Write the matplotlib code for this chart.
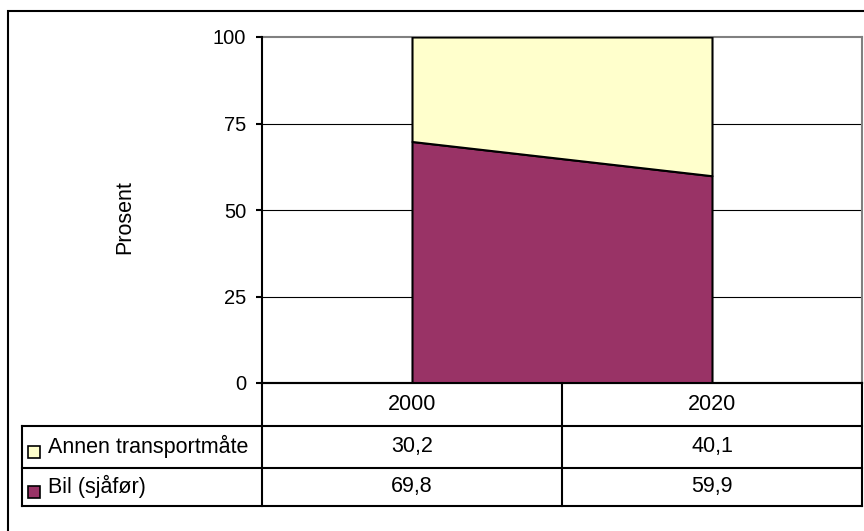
import matplotlib
matplotlib.use("Agg")
import matplotlib.pyplot as plt
from matplotlib.patches import Rectangle

# --- data -------------------------------------------------------------
years = ["2000", "2020"]
series_names = ["Annen transportmåte", "Bil (sjåfør)"]
bil = [69.8, 59.9]
annen = [30.2, 40.1]
y_ticks = [0, 25, 50, 75, 100]
y_label = "Prosent"

col_annen = "#FFFFCC"
col_bil = "#993366"

plt.rcParams["font.family"] = ["Liberation Sans", "DejaVu Sans"]
FS = 15.5
FS_TICK = 14.5

W, H = 864, 531
fig = plt.figure(figsize=(W / 100, H / 100), dpi=100)


def fig_rect(x0, y0, x1, y1):
    """pixel box (top-left origin) -> figure fraction [l, b, w, h]"""
    return [x0 / W, 1 - y1 / H, (x1 - x0) / W, (y1 - y0) / H]


# outer chart frame
fig.patches.append(Rectangle((8 / W, -0.05), 1.2, 1 - 11 / H + 0.05,
                             transform=fig.transFigure, fill=False,
                             edgecolor="black", linewidth=1.5))

# --- plot area ----------------------------------------------------------
PL, PR, PT, PB = 262, 862, 37, 383
ax = fig.add_axes(fig_rect(PL, PT, PR, PB))
x = list(range(len(years)))
ax.stackplot(x, bil, annen, colors=[col_bil, col_annen],
             edgecolor="black", linewidth=1.5, zorder=3)
ax.set_xlim(-0.5, len(years) - 0.5)
ax.set_ylim(0, 100)

for t in y_ticks[1:-1]:
    ax.axhline(t, color="black", linewidth=0.8, zorder=1)

ax.set_yticks(y_ticks)
ax.set_yticklabels([str(t) for t in y_ticks], fontsize=FS_TICK)
ax.tick_params(axis="y", direction="out", length=4.5, width=1.5, pad=7)
ax.set_xticks([])
for side in ("top", "right"):
    ax.spines[side].set_color("#808080")
    ax.spines[side].set_linewidth(1.5)
ax.spines["left"].set_linewidth(1.5)
ax.spines["bottom"].set_linewidth(1.5)
ax.spines["left"].set_zorder(5)

fig.text(125 / W, 1 - 217 / H, y_label, rotation=90, fontsize=FS,
         ha="center", va="center")

# --- data table ---------------------------------------------------------
TL, TB = 22, 506
tax = fig.add_axes(fig_rect(TL, PB, PR, TB))
unit = (PR - PL) / len(years)          # pixels per category
xl = -0.5 - (PL - TL) / unit
tax.set_xlim(xl, len(years) - 0.5)
tax.set_ylim(TB - PB, 0)
tax.axis("off")

rows = [0, 42.5, 84.5, TB - PB]
lw = 1.5
# column dividers
for cx in [-0.5 + i for i in range(len(years) + 1)]:
    tax.plot([cx, cx], [rows[0], rows[-1]], color="black", lw=lw,
             clip_on=False, solid_capstyle="projecting")
tax.plot([xl, xl], [rows[1], rows[-1]], color="black", lw=lw,
         clip_on=False, solid_capstyle="projecting")
# row dividers
tax.plot([-0.5, len(years) - 0.5], [rows[0]] * 2, color="black", lw=lw,
         clip_on=False)
for ry in rows[1:]:
    tax.plot([xl, len(years) - 0.5], [ry] * 2, color="black", lw=lw,
             clip_on=False, solid_capstyle="projecting")

# header
for i, yr in enumerate(years):
    tax.text(i, (rows[0] + rows[1]) / 2, yr, fontsize=FS,
             ha="center", va="center")

# series rows
table_rows = [(series_names[0], annen, col_annen),
              (series_names[1], bil, col_bil)]
px = 1 / unit
for r, (name, vals, col) in enumerate(table_rows):
    yc = (rows[r + 1] + rows[r + 2]) / 2
    tax.add_patch(Rectangle((xl + 6 * px, yc - 1), 12 * px, 12,
                            facecolor=col, edgecolor="black", lw=1.2,
                            clip_on=False))
    tax.text(xl + 26 * px, yc, name, fontsize=FS, ha="left", va="center")
    for i, v in enumerate(vals):
        tax.text(i, yc, f"{v:.1f}".replace(".", ","), fontsize=FS,
                 ha="center", va="center")

fig.savefig("out.png", dpi=100)
